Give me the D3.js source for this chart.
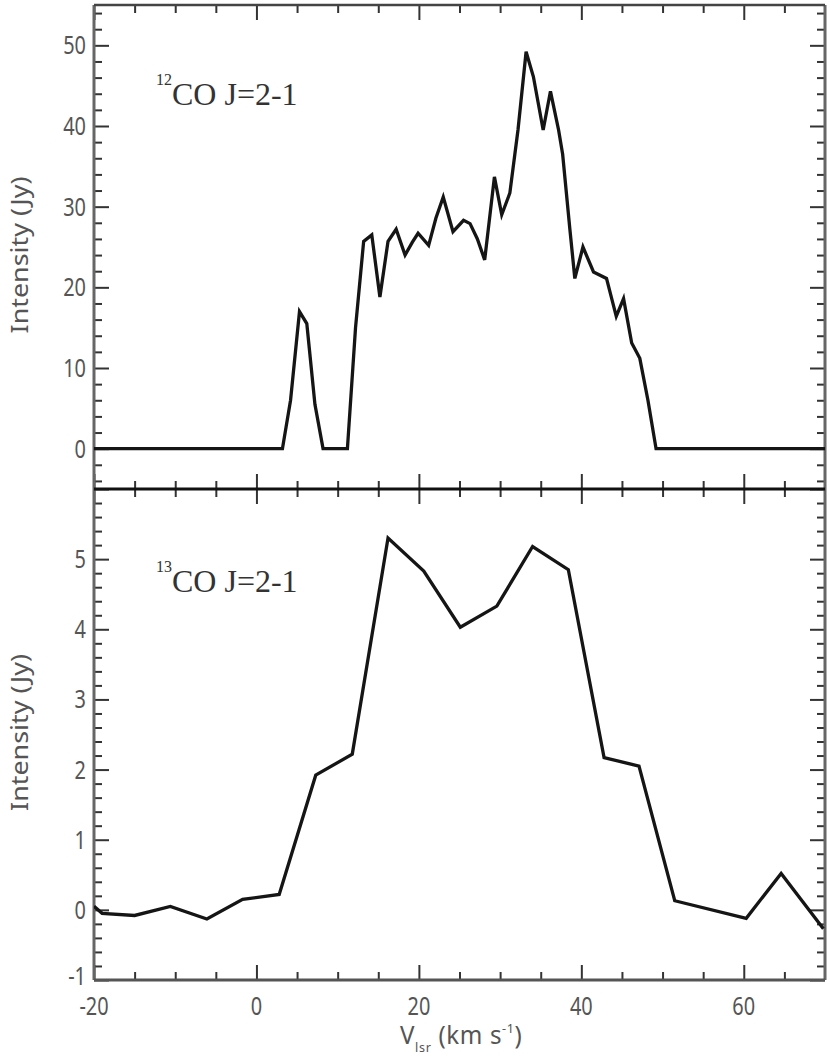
<!DOCTYPE html>
<html>
<head>
<meta charset="utf-8">
<script src="https://cdn.jsdelivr.net/npm/d3@7"></script>
<style>
  html, body { margin: 0; padding: 0; background: #fff; }
  svg { display: block; }
</style>
</head>
<body>
<svg id="chart" width="830" height="1059"></svg>
<script>
// ---- Data ----
const co12Velocity = [-20, 3.2, 4.2, 5.3, 6.2, 7.2, 8.2, 11.2, 12.2, 13.2, 14.2, 15.2, 16.2, 17.2, 18.3, 19.2, 19.9, 21.2, 22.1, 23.0, 24.2, 25.5, 26.3, 27.2, 28.1, 29.3, 30.2, 31.2, 32.2, 33.2, 34.1, 35.3, 36.2, 37.2, 37.7, 38.6, 39.2, 40.2, 41.5, 43.1, 44.3, 45.2, 46.2, 47.2, 48.2, 49.2, 70];
const co12Intensity = [0, 0, 6, 17.0, 15.5, 5.5, 0, 0, 15, 25.7, 26.5, 18.8, 25.7, 27.2, 24.0, 25.6, 26.7, 25.2, 28.6, 31.2, 26.9, 28.3, 27.9, 26.0, 23.4, 33.7, 29.0, 31.7, 39.5, 49.2, 46.1, 39.5, 44.3, 39.5, 36.5, 27.1, 21.1, 25.0, 21.9, 21.1, 16.4, 18.6, 13.1, 11.2, 6.0, 0, 0];

const co13Velocity = [-20, -19.0, -15.0, -10.6, -6.1, -1.7, 2.8, 7.3, 11.8, 16.2, 20.6, 25.1, 29.6, 34.0, 38.4, 42.8, 47.1, 51.5, 60.3, 64.6, 69.8];
const co13Intensity = [0.05, -0.05, -0.08, 0.05, -0.13, 0.15, 0.22, 1.92, 2.22, 5.30, 4.83, 4.03, 4.33, 5.18, 4.85, 2.17, 2.05, 0.13, -0.12, 0.52, -0.27];

const xTickValues = [-20, 0, 20, 40, 60];
const xMinorValues = [-15, -10, -5, 5, 10, 15, 25, 30, 35, 45, 50, 55, 65];
const topTickValues = [0, 10, 20, 30, 40, 50];
const botTickValues = [-1, 0, 1, 2, 3, 4, 5];

const xDomain = [-20, 70];
const topDomain = [-5, 55];
const botDomain = [-1, 6];

// ---- Layout ----
const L = 94, R = 825, T = 5, M = 489, B = 980;
const svg = d3.select("#chart");

const x = d3.scaleLinear().domain(xDomain).range([L, R]);
const yTop = d3.scaleLinear().domain(topDomain).range([M, T]);
const yBot = d3.scaleLinear().domain(botDomain).range([B, M]);

const topMinor = d3.range(-4, 55, 2).filter(v => v % 10 !== 0);
const botMinor = d3.range(-10, 60, 2).map(v => v / 10).filter(v => Math.abs(v - Math.round(v)) > 1e-6);

const tickColor = "#333";
const MAJ = 15, MIN = 8;

function drawTicks(axisFn, scale, values, size, transform) {
  const g = svg.append("g").attr("transform", transform)
    .call(axisFn(scale).tickValues(values).tickSize(size).tickFormat(""));
  g.select(".domain").remove();
  g.selectAll(".tick line").attr("stroke", tickColor).attr("stroke-width", 2);
  g.selectAll(".tick text").remove();
  return g;
}

function panelTicks(y, majors, minors, top, bottom) {
  drawTicks(d3.axisLeft, y, majors, -MAJ, `translate(${L},0)`);
  drawTicks(d3.axisLeft, y, minors, -MIN, `translate(${L},0)`);
  drawTicks(d3.axisRight, y, majors, -MAJ, `translate(${R},0)`);
  drawTicks(d3.axisRight, y, minors, -MIN, `translate(${R},0)`);
  drawTicks(d3.axisTop, x, xTickValues, -MAJ, `translate(0,${top})`);
  drawTicks(d3.axisTop, x, xMinorValues, -MIN, `translate(0,${top})`);
  drawTicks(d3.axisBottom, x, xTickValues, -MAJ, `translate(0,${bottom})`);
  drawTicks(d3.axisBottom, x, xMinorValues, -MIN, `translate(0,${bottom})`);
}

panelTicks(yTop, topTickValues, topMinor, T, M);
panelTicks(yBot, botTickValues.concat([6]), botMinor, M, B);

// Frame
const frameColor = "#666";
svg.append("line").attr("x1", L).attr("x2", L).attr("y1", T).attr("y2", B).attr("stroke", frameColor).attr("stroke-width", 3);
svg.append("line").attr("x1", R).attr("x2", R).attr("y1", T).attr("y2", B).attr("stroke", frameColor).attr("stroke-width", 3);
svg.append("line").attr("x1", L).attr("x2", R).attr("y1", T).attr("y2", T).attr("stroke", "#444").attr("stroke-width", 2.5);
svg.append("line").attr("x1", L).attr("x2", R).attr("y1", B).attr("y2", B).attr("stroke", "#555").attr("stroke-width", 3);
svg.append("line").attr("x1", L).attr("x2", R).attr("y1", M).attr("y2", M).attr("stroke", "#111").attr("stroke-width", 3);

// Curves
svg.append("clipPath").attr("id", "clipTop").append("rect").attr("x", L).attr("y", T).attr("width", R - L).attr("height", M - T);
svg.append("clipPath").attr("id", "clipBot").append("rect").attr("x", L).attr("y", M).attr("width", R - L).attr("height", B - M);

const lineTop = d3.line().x((d, i) => x(co12Velocity[i])).y(d => yTop(d));
const lineBot = d3.line().x((d, i) => x(co13Velocity[i])).y(d => yBot(d));

svg.append("path").attr("d", lineTop(co12Intensity)).attr("fill", "none").attr("stroke", "#151515").attr("stroke-width", 3.3).attr("stroke-linejoin", "miter").attr("clip-path", "url(#clipTop)");
svg.append("path").attr("d", lineBot(co13Intensity)).attr("fill", "none").attr("stroke", "#151515").attr("stroke-width", 3.3).attr("stroke-linejoin", "miter").attr("clip-path", "url(#clipBot)");

// Tick labels (slightly tall, narrow face as in the reference)
const labelFont = "'Noto Sans', sans-serif";
const labelColor = "#555";
const SY = 1.18;
function yLabels(y, values) {
  svg.append("g").selectAll("text").data(values).join("text")
    .attr("transform", d => `translate(${L - 8},${y(d) - (d === -1 ? 4 : 0)}) scale(0.95,${SY})`)
    .attr("dy", "0.36em")
    .attr("text-anchor", "end").attr("font-family", labelFont).attr("font-size", 21)
    .attr("fill", labelColor).text(d => d);
}
yLabels(yTop, topTickValues);
yLabels(yBot, botTickValues);

svg.append("g").selectAll("text").data(xTickValues).join("text")
  .attr("transform", d => `translate(${x(d)},${B + 26}) scale(0.95,${SY})`)
  .attr("dy", "0.36em")
  .attr("text-anchor", "middle").attr("font-family", labelFont).attr("font-size", 21)
  .attr("fill", labelColor).text(d => d);

// Axis titles
[ (T + M) / 2 + 8, (M + B) / 2 - 2 ].forEach(cy => {
  svg.append("text")
    .attr("transform", `translate(${28},${cy}) rotate(-90) scale(1.12,0.95)`)
    .attr("text-anchor", "middle").attr("font-family", labelFont).attr("font-size", 24)
    .attr("fill", labelColor).text("Intensity (Jy)");
});

const xt = svg.append("text").attr("transform", "translate(400,1044) scale(1.05,1.1)")
  .attr("font-family", labelFont).attr("font-size", 23).attr("fill", labelColor)
  .attr("letter-spacing", 0.6);
xt.append("tspan").text("V");
xt.append("tspan").attr("font-size", 12).attr("dy", 7).text("lsr");
xt.append("tspan").attr("dy", -7).text(" (km s");
xt.append("tspan").attr("font-size", 12).attr("dy", -10).text("-1");
xt.append("tspan").attr("dy", 10).text(")");

// Panel labels
function panelLabel(iso, baseY) {
  const t = svg.append("text").attr("x", 156).attr("y", baseY)
    .attr("font-family", "'Liberation Serif', 'Times New Roman', serif").attr("font-size", 32).attr("fill", "#333");
  t.append("tspan").attr("font-size", 16).attr("dy", -20).text(iso);
  t.append("tspan").attr("dy", 20).text("CO J=2-1");
}
panelLabel("12", 105);
panelLabel("13", 592);
</script>
</body>
</html>
